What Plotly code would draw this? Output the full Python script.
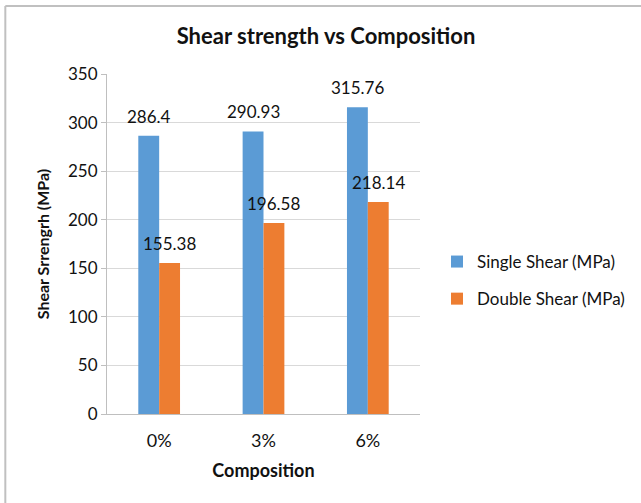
import plotly.graph_objects as go

categories = ["0%", "3%", "6%"]
single_shear = [286.4, 290.93, 315.76]
double_shear = [155.38, 196.58, 218.14]
label_single = ["286.4", "290.93", "315.76"]
label_double = ["155.38", "196.58", "218.14"]
y_ticks = [0, 50, 100, 150, 200, 250, 300, 350]

FONT = "Lato"
W, H = 641, 503
ML, MR, MT, MB = 107, 220, 74, 89
PW = W - ML - MR
PH = H - MT - MB

fig = go.Figure()
fig.add_trace(go.Bar(name="Single Shear (MPa)", x=categories, y=single_shear,
                     marker=dict(color="#5B9BD5", line=dict(width=0)),
                     legendgroup="a"))
fig.add_trace(go.Bar(name="Double Shear (MPa)", x=categories, y=double_shear,
                     marker=dict(color="#ED7D31", line=dict(width=0)),
                     legendgroup="b"))

annotations = []
for i, (v, t) in enumerate(zip(single_shear, label_single)):
    annotations.append(dict(x=i - 0.1, y=v, text=t, showarrow=False, xref="x", yref="y",
                            yanchor="bottom", yshift=7, font=dict(family=FONT, size=17, color="#111")))
for i, (v, t) in enumerate(zip(double_shear, label_double)):
    annotations.append(dict(x=i + 0.1, y=v, text=t, showarrow=False, xref="x", yref="y",
                            yanchor="bottom", yshift=7, font=dict(family=FONT, size=17, color="#111")))

# chart border (top and left edges)
bx = (5 - ML) / PW
by = (H - MB - 6) / PH
shapes = [
    dict(type="line", xref="paper", yref="paper", x0=bx, x1=(W - ML) / PW + 0.01, y0=by, y1=by,
         line=dict(color="#C0C0C0", width=2)),
    dict(type="line", xref="paper", yref="paper", x0=bx, x1=bx, y0=by, y1=(H - MB - 503) / PH,
         line=dict(color="#C0C0C0", width=2)),
]

fig.update_layout(
    width=W, height=H,
    margin=dict(l=ML, r=MR, t=MT, b=MB),
    paper_bgcolor="white", plot_bgcolor="white",
    font=dict(family=FONT, color="#111"),
    title=dict(text="<b>Shear strength vs Composition</b>", x=(326) / W, xanchor="center",
               y=1 - 36 / H, yanchor="middle", font=dict(family=FONT, size=22, color="#111")),
    barmode="group", bargap=0.6, bargroupgap=0,
    xaxis=dict(type="category", showgrid=False, showline=True, linecolor="#BFBFBF", linewidth=1,
               ticks="outside", ticklen=10, tickcolor="rgba(0,0,0,0)",
               tickfont=dict(family=FONT, size=18, color="#111"),
               title=dict(text="<b>Composition</b>", font=dict(family=FONT, size=18, color="#111"), standoff=14)),
    yaxis=dict(range=[0, 350], tickvals=y_ticks, showgrid=True, gridcolor="#D9D9D9", gridwidth=1,
               showline=True, linecolor="#BFBFBF", linewidth=1, ticks="outside", ticklen=5,
               tickcolor="#BFBFBF", zeroline=False, tickfont=dict(family=FONT, size=17, color="#111"),
               title=dict(text="<b>Shear Srrengrh (MPa)</b>", font=dict(family=FONT, size=16, color="#111"),
                          standoff=14)),
    legend=dict(x=(437 - ML) / PW, xanchor="left", y=(H - MB - 244) / PH, yanchor="top",
                font=dict(family=FONT, size=17, color="#111"), tracegroupgap=12,
                bgcolor="rgba(0,0,0,0)"),
    annotations=annotations,
    shapes=shapes,
)

fig.write_html("out.html")
